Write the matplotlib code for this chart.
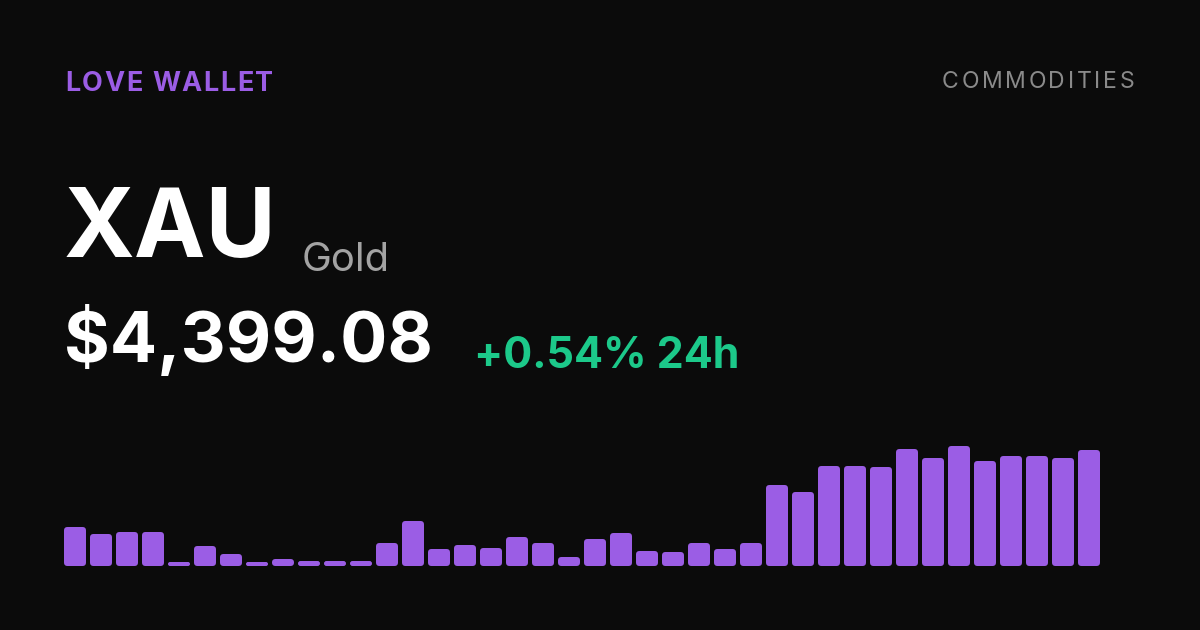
import matplotlib
matplotlib.use("Agg")
import matplotlib.pyplot as plt
from matplotlib.patches import FancyBboxPatch

# ---- data ----
brand = "LOVE WALLET"
category = "COMMODITIES"
symbol = "XAU"
name = "Gold"
price_label = "$4,399.08"
change_label = "+0.54% 24h"
bar_values = [39, 32, 34, 34, 4, 20, 12, 4, 7, 5, 5, 5, 23, 45, 17, 21, 18, 29, 23, 9,
              27, 33, 15, 14, 23, 17, 23, 81, 74, 100, 100, 99, 117, 108, 120, 105, 110, 110, 108, 116]

BG = "#0b0b0b"
PURPLE = "#9b5de5"
GREEN = "#1cc98a"
W, H = 1200, 630
SANS = "Inter"

fig = plt.figure(figsize=(12, 6.3), dpi=100, facecolor=BG)
r = fig.canvas.get_renderer()

def px(s):
    return s * 0.72

def width_of(t, **kw):
    tt = fig.text(0, 0, t, transform=None, **kw)
    bb = tt.get_window_extent(r)
    tt.remove()
    return bb.width

def spaced(x_left, x_right, y_base, s, **kw):
    # letter-spaced text fitted between x_left and x_right, baseline at image y
    base = width_of("|", **kw)
    offs = [0 if i == 0 else width_of(s[:i] + "|", **kw) - base for i in range(len(s))]
    last_w = width_of(s[-1], **kw)
    natural = offs[-1] + last_w
    sp = (x_right - x_left - natural) / (len(s) - 1)
    for i, ch in enumerate(s):
        if ch != " ":
            fig.text(x_left + offs[i] + i * sp, H - y_base, ch, transform=None,
                     ha="left", va="baseline", **kw)

spaced(65, 273, 91, brand, fontsize=px(27), fontweight="bold", color=PURPLE, family=SANS)
spaced(942, 1134, 88.5, category, fontsize=px(23), color="#8a8a8a", family=SANS)

fig.text(64 / W, 1 - 256.5 / H, symbol, fontsize=px(96), fontweight="bold", color="white",
         family=SANS, ha="left", va="baseline")
fig.text(302 / W, 1 - 271 / H, name, fontsize=px(40), color="#a3a3a3",
         family=SANS, ha="left", va="baseline")
fig.text(64 / W, 1 - 362 / H, price_label, fontsize=px(70), fontweight="bold", color="white",
         family=SANS, ha="left", va="baseline")
fig.text(474 / W, 1 - 368 / H, change_label, fontsize=px(43), fontweight="bold", color=GREEN,
         family=SANS, ha="left", va="baseline")

# ---- bars ----
n = len(bar_values)
step_px = 26
bw = 22 / step_px
left_px, right_px = 64, 1100
bottom_px, height_px = 566, 140
ax = fig.add_axes([left_px / W, (H - bottom_px) / H, (right_px - left_px) / W, height_px / H])
ax.set_facecolor(BG)
ax.set_xlim(-bw / 2, n - 1 + bw / 2)
ax.set_ylim(0, height_px)
ax.axis("off")

bars = ax.bar(range(n), bar_values, width=bw, color=PURPLE)
for b in bars:
    x0, y0 = b.get_x(), b.get_y()
    w, h = b.get_width(), b.get_height()
    rad_px = min(3.5, h / 2)
    b.set_visible(False)
    p = FancyBboxPatch((x0, y0), w, h,
                       boxstyle=f"round,pad=0,rounding_size={rad_px / step_px}",
                       mutation_aspect=step_px, facecolor=PURPLE, edgecolor="none")
    ax.add_patch(p)

fig.savefig("out.png", dpi=100, facecolor=BG)
